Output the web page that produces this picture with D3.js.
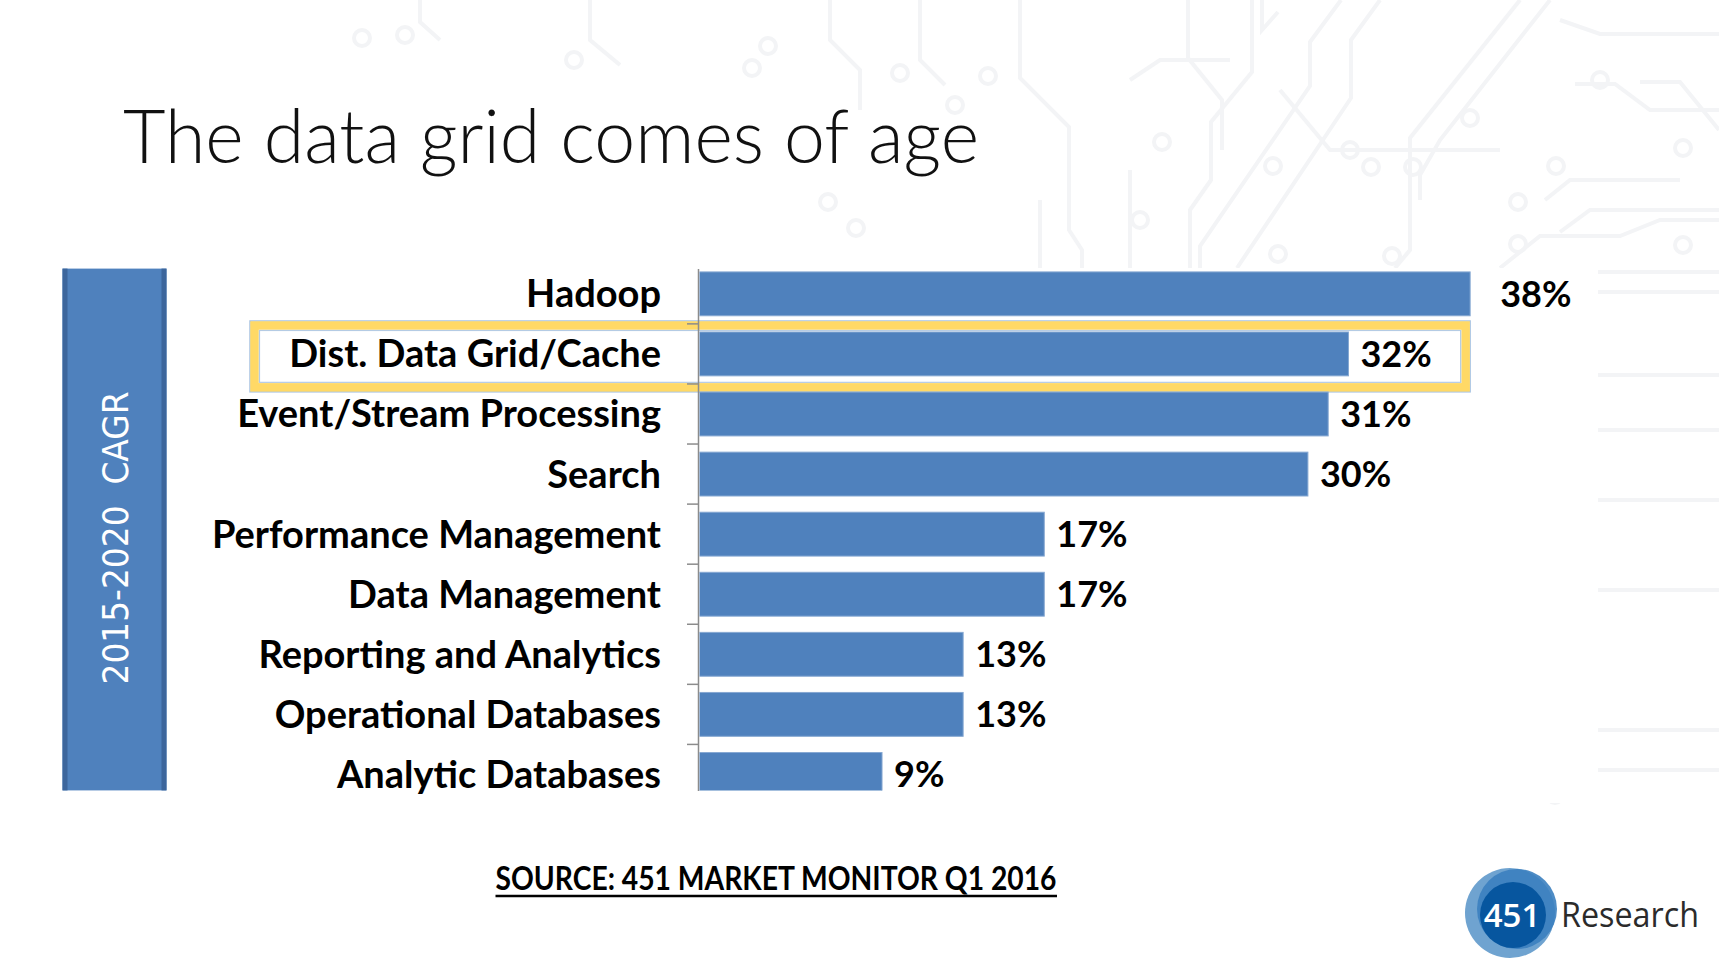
<!DOCTYPE html>
<html>
<head>
<meta charset="utf-8">
<script src="https://cdn.jsdelivr.net/npm/d3@7"></script>
<style>
  body { margin: 0; background: #fff; }
  svg { display: block; }
</style>
</head>
<body>
<div id="chart"></div>
<script>
// chart values
var categories = ["Hadoop", "Dist. Data Grid/Cache", "Event/Stream Processing", "Search",
  "Performance Management", "Data Management", "Reporting and Analytics",
  "Operational Databases", "Analytic Databases"];
var cagr = [38, 32, 31, 30, 17, 17, 13, 13, 9];
var highlighted = "Dist. Data Grid/Cache";
var sideLabel = "2015-2020  CAGR";

var svgWidth = 1719;
var svgHeight = 966;

var plot = { left: 699.5, top: 268.6, bottom: 790.4 };

var svg = d3.select("#chart")
  .append("svg")
  .attr("width", svgWidth)
  .attr("height", svgHeight);

// faint circuit board pattern in the background
var circuit = svg.append("g")
  .attr("fill", "none")
  .attr("stroke", "#f3f4f6")
  .attr("stroke-width", 4);

var traces = [
  "M1020,0 V78 L1069,127 V230 L1082,250 V268",
  "M1188,0 V58 L1222,100 V150",
  "M1252,0 V72 L1211,122 V180 L1190,210 V268",
  "M1262,0 V30 L1278,12",
  "M1341,0 L1310,42 V86 L1200,246 V268",
  "M1380,0 L1351,40 V98 L1237,268",
  "M1520,0 L1410,138 V250 L1395,268",
  "M1550,0 L1440,140 L1420,175 V200",
  "M1560,20 L1600,34 L1719,34",
  "M1575,84 L1615,84 L1650,110 L1719,110",
  "M1640,82 L1680,82 L1719,130",
  "M1545,200 L1570,180 L1680,180",
  "M1560,232 L1590,210 L1719,210",
  "M1500,268 L1540,236 L1620,236 L1660,220 L1719,220",
  "M1598,272 H1719", "M1598,292 H1719", "M1598,375 H1719",
  "M1598,430 H1719", "M1598,500 H1719", "M1598,590 H1719",
  "M1598,730 H1719", "M1598,770 H1719",
  "M830,0 V40 L860,70 V110",
  "M920,0 V60 L945,85",
  "M420,0 V22 L440,40",
  "M590,0 V40 L620,65",
  "M1130,80 L1160,60 L1230,60",
  "M1280,90 L1330,150 H1500",
  "M1040,200 V268", "M1130,170 V268"
];
circuit.selectAll("path")
  .data(traces)
  .enter()
  .append("path")
  .attr("d", function(d) { return d; });

var nodes = [[362, 38], [405, 35], [574, 60], [752, 68], [768, 46], [900, 73], [955, 105],
  [988, 76], [828, 202], [856, 228], [1162, 142], [1140, 220], [1273, 166], [1350, 150],
  [1371, 167], [1413, 167], [1470, 118], [1518, 202], [1683, 148], [1556, 166],
  [1518, 244], [1600, 80], [1683, 245], [1278, 254], [1392, 256], [1555, 795]];
circuit.selectAll("circle")
  .data(nodes)
  .enter()
  .append("circle")
  .attr("cx", function(d) { return d[0]; })
  .attr("cy", function(d) { return d[1]; })
  .attr("r", 8);

// white panel behind the chart
svg.append("rect")
  .attr("x", 0)
  .attr("y", 268)
  .attr("width", 1598)
  .attr("height", 535)
  .attr("fill", "#fff");

// title
svg.append("text")
  .attr("x", 123)
  .attr("y", 163)
  .attr("font-family", "Lato, 'Open Sans', sans-serif")
  .attr("font-weight", 300)
  .attr("font-size", 74)
  .attr("fill", "#111")
  .attr("textLength", 856)
  .attr("lengthAdjust", "spacingAndGlyphs")
  .text("The data grid comes of age");

// side box with the measure
var side = svg.append("g");
side.append("rect")
  .attr("x", 62.5)
  .attr("y", plot.top)
  .attr("width", 104)
  .attr("height", plot.bottom - plot.top)
  .attr("fill", "#4f81bd");
side.append("rect")
  .attr("x", 62.5).attr("y", plot.top)
  .attr("width", 5).attr("height", plot.bottom - plot.top)
  .attr("fill", "#3d669c");
side.append("rect")
  .attr("x", 161.5).attr("y", plot.top)
  .attr("width", 5).attr("height", plot.bottom - plot.top)
  .attr("fill", "#3d669c");
side.append("text")
  .attr("transform", "translate(128," + 538 + ") rotate(-90)")
  .attr("text-anchor", "middle")
  .attr("font-family", "'DejaVu Sans', sans-serif")
  .attr("font-size", 35)
  .attr("fill", "#fff")
  .attr("textLength", 293)
  .attr("lengthAdjust", "spacingAndGlyphs")
  .attr("xml:space", "preserve")
  .style("white-space", "pre")
  .text(sideLabel);

// scales
var y = d3.scaleBand()
  .domain(categories)
  .range([263.8, 804.5])
  .paddingInner(0.27)
  .paddingOuter(0.135);

var x = d3.scaleLinear()
  .domain([0, 40])
  .range([plot.left, plot.left + 40 * 20.28]);

var rows = categories.map(function(c, i) { return { name: c, value: cagr[i] }; });

// highlight frame around the featured category
var hy = y(highlighted);
var boxRight = x(d3.max(cagr));
var frame = svg.append("g").attr("fill", "none");
frame.append("rect")
  .attr("x", 250).attr("y", hy - 11)
  .attr("width", boxRight - 250).attr("height", y.bandwidth() + 27)
  .attr("stroke", "#a9c4e2").attr("stroke-width", 1.5);
frame.append("rect")
  .attr("x", 254.5).attr("y", hy - 6.5)
  .attr("width", boxRight - 4.5 - 254.5).attr("height", y.bandwidth() + 18)
  .attr("stroke", "#ffd966").attr("stroke-width", 8.5);
frame.append("rect")
  .attr("x", 259.5).attr("y", hy - 1.5)
  .attr("width", boxRight - 9.5 - 259.5).attr("height", y.bandwidth() + 8)
  .attr("stroke", "#b4cbe4").attr("stroke-width", 1.2);

// category axis: domain line and ticks between categories
var axisG = svg.append("g")
  .attr("transform", "translate(" + (plot.left - 1.5) + ",0)")
  .call(d3.axisLeft(d3.scaleLinear().range([plot.top, plot.bottom])).ticks(0).tickSize(0).tickFormat(""));
axisG.select(".domain").attr("stroke", "#8c8c8c").attr("stroke-width", 1.5);

var gap = y.step() * y.paddingInner() / 2;
axisG.selectAll(".sep")
  .data(categories.slice(1))
  .enter()
  .append("line")
  .attr("class", "sep")
  .attr("x1", -11).attr("x2", 0)
  .attr("y1", function(d) { return y(d) - gap; })
  .attr("y2", function(d) { return y(d) - gap; })
  .attr("stroke", "#8c8c8c")
  .attr("stroke-width", 1.5);

// bars, clipped to the plot height
svg.append("clipPath")
  .attr("id", "plotClip")
  .append("rect")
  .attr("x", plot.left).attr("y", plot.top)
  .attr("width", 1000).attr("height", plot.bottom - plot.top);

svg.append("g")
  .attr("clip-path", "url(#plotClip)")
  .selectAll("rect")
  .data(rows)
  .enter()
  .append("rect")
  .attr("x", x(0))
  .attr("y", function(d) { return y(d.name); })
  .attr("width", function(d) { return x(d.value) - x(0); })
  .attr("height", y.bandwidth())
  .attr("fill", "#4f81bd")
  .attr("stroke", "#86a8d2")
  .attr("stroke-width", 1);

// category labels
svg.append("g")
  .selectAll("text")
  .data(rows)
  .enter()
  .append("text")
  .attr("x", 661)
  .attr("y", function(d) { return y(d.name) + y.bandwidth() / 2 + 13.5; })
  .attr("text-anchor", "end")
  .attr("font-family", "Lato, sans-serif")
  .attr("font-weight", 700)
  .attr("font-size", 38)
  .attr("fill", "#000")
  .text(function(d) { return d.name; });

// value labels
svg.append("g")
  .selectAll("text")
  .data(rows)
  .enter()
  .append("text")
  .attr("x", function(d) { return x(d.value) >= boxRight - 1 ? x(d.value) + 30 : x(d.value) + 12; })
  .attr("y", function(d) { return y(d.name) + y.bandwidth() / 2 + 13; })
  .attr("font-family", "Lato, sans-serif")
  .attr("font-weight", 700)
  .attr("font-size", 36)
  .attr("fill", "#000")
  .text(function(d) { return d.value + "%"; });

// source note
svg.append("text")
  .attr("x", 776)
  .attr("y", 890)
  .attr("text-anchor", "middle")
  .attr("font-family", "Lato, sans-serif")
  .attr("font-weight", 700)
  .attr("font-size", 33)
  .attr("fill", "#000")
  .attr("textLength", 561)
  .attr("lengthAdjust", "spacingAndGlyphs")
  .text("SOURCE: 451 MARKET MONITOR Q1 2016");
svg.append("line")
  .attr("x1", 495.5).attr("x2", 1057)
  .attr("y1", 896).attr("y2", 896)
  .attr("stroke", "#000").attr("stroke-width", 2.5);

// 451 Research logo
var logo = svg.append("g");
logo.append("circle").attr("cx", 1510).attr("cy", 913).attr("r", 45).attr("fill", "#6fa3d0");
logo.append("circle").attr("cx", 1517).attr("cy", 909).attr("r", 40).attr("fill", "#3b80bf").attr("opacity", 0.9);
logo.append("circle").attr("cx", 1513).attr("cy", 915).attr("r", 33).attr("fill", "#07569f");
logo.append("text")
  .attr("x", 1512).attr("y", 927)
  .attr("text-anchor", "middle")
  .attr("font-family", "'Open Sans', sans-serif")
  .attr("font-weight", 600)
  .attr("font-size", 33)
  .attr("fill", "#fff")
  .text("451");
logo.append("text")
  .attr("x", 1561).attr("y", 927)
  .attr("font-family", "'Open Sans', sans-serif")
  .attr("font-size", 34)
  .attr("fill", "#2b2b2b")
  .attr("textLength", 138)
  .attr("lengthAdjust", "spacingAndGlyphs")
  .text("Research");
</script>
</body>
</html>
